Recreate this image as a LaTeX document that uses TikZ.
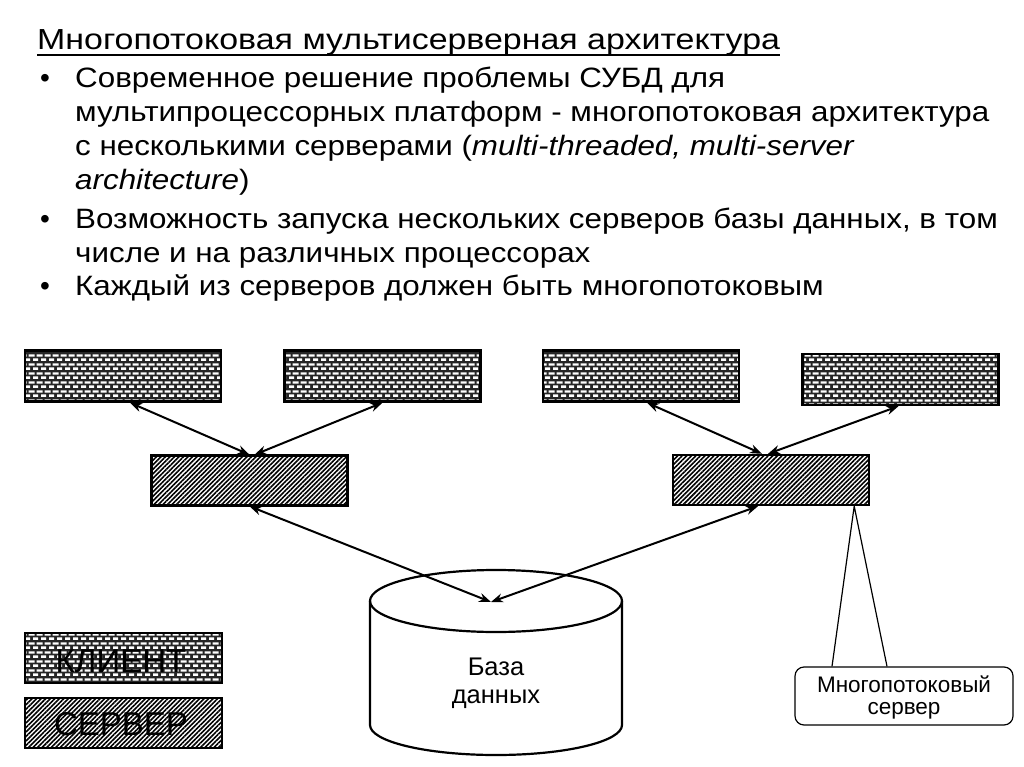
\documentclass[tikz,border=0pt]{standalone}
\usepackage{fontspec}
\setmainfont{Liberation Sans}
\usetikzlibrary{arrows.meta,positioning,patterns.meta}

\tikzdeclarepattern{
  name=clientbricks, type=uncolored,
  bounding box={(0pt,0pt) and (8pt,9pt)},
  tile size={(8pt,9pt)},
  code={
    \fill (1.2pt,1.3pt) rectangle (6.8pt,3.9pt);
    \fill (-2.8pt,5.8pt) rectangle (2.8pt,8.4pt);
    \fill (5.2pt,5.8pt) rectangle (10.8pt,8.4pt);
  }}

\begin{document}
\begin{tikzpicture}[x=1pt,y=-1pt,
  bodytext/.style={anchor=base west,inner sep=0pt,font=\fontsize{28}{32}\selectfont},
  clientbox/.style={draw,line width=2.4pt,preaction={fill=black!85},pattern=clientbricks,
    pattern color=white,minimum width=196pt,minimum height=51pt,inner sep=0pt},
  serverbox/.style={draw,line width=2.4pt,pattern={Lines[angle=45,distance=3.2pt,line width=1.6pt]},
    minimum width=196pt,minimum height=50pt,inner sep=0pt},
  legendtext/.style={anchor=base,inner sep=0pt,font=\fontsize{33}{36}\selectfont},
  smalltext/.style={anchor=base,inner sep=0pt,font=\fontsize{#1}{#1}\selectfont},
  conn/.style={{Stealth[length=12pt,width=9pt]}-{Stealth[length=12pt,width=9pt]},line width=2pt}]
\useasboundingbox (0,0) rectangle (1024,767);

\node[anchor=base west,inner sep=0pt,font=\fontsize{29}{32}\selectfont] (title) at (37,50)
  {\scalebox{1.17}[1]{Многопотоковая мультисерверная архитектура}};
\draw[line width=1.4pt] ([yshift=-5pt]title.base west) -- ([yshift=-5pt]title.base east);

\foreach \y in {88,229,295}
  \node[bodytext] (dot\y) at (40,\y) {•};
\foreach \y/\t in {88/{Современное решение проблемы СУБД для},
    122/{мультипроцессорных платформ - многопотоковая архитектура},
    156/{с несколькими серверами (\textit{multi-threaded, multi-server}},
    190/{\textit{architecture})},
    229/{Возможность запуска нескольких серверов базы данных, в том},
    262/{числе и на различных процессорах},
    295/{Каждый из серверов должен быть многопотоковым}}
  \node[bodytext] (line\y) at (75,\y) {\scalebox{1.12}[1]{\t}};

\node[clientbox] (c1) at (123,376) {};
\node[clientbox] (c2) at (382.5,376) {};
\node[clientbox] (c3) at (641,376) {};
\node[clientbox] (c4) at (900.5,379.5) {};
\node[serverbox] (s1) at (249.5,480.5) {};
\node[serverbox] (s2) at (771,480) {};

\draw[line width=2.2pt] (496,601) ellipse[x radius=126,y radius=31];
\draw[line width=2.2pt] (370,601) -- (370,725) arc[start angle=180,end angle=0,x radius=126,y radius=30] -- (622,601);
\coordinate (db) at (491,602);
\node[smalltext=25.5] (dbname) at (496,675) {База};
\node[smalltext=25.5] (dbname2) at (496,703) {данных};

\draw[conn] ([xshift=7pt]c1.south) -- (s1.north);
\draw[conn] (c2.south) -- ([xshift=5pt]s1.north);
\draw[conn] ([xshift=6pt]c3.south) -- ([xshift=-9pt]s2.north);
\draw[conn] ([xshift=-2pt]c4.south) -- ([xshift=-3pt]s2.north);
\draw[conn] (s1.south) -- (db);
\draw[conn] ([xshift=-13pt]s2.south) -- (db);

\node[draw,line width=1.2pt,rounded corners=9pt,minimum width=218pt,minimum height=58pt] (note) at (904,696) {};
\node[smalltext=22.5] (notetext) at (904,692) {Многопотоковый};
\node[smalltext=22.5] (notetext2) at (904,714) {сервер};
\draw[line width=1.2pt] ([xshift=-72pt]note.north) -- ([xshift=-16pt]s2.south east) -- ([xshift=-17pt]note.north);

\node[clientbox,minimum width=197pt,minimum height=50pt] (legc) at (123.5,658) {};
\node[legendtext] (legctext) at (121,672) {КЛИЕНТ};
\node[serverbox,minimum width=197pt,minimum height=50pt] (legs) at (123.5,723) {};
\node[legendtext] (legstext) at (121,735) {СЕРВЕР};
\end{tikzpicture}
\end{document}
